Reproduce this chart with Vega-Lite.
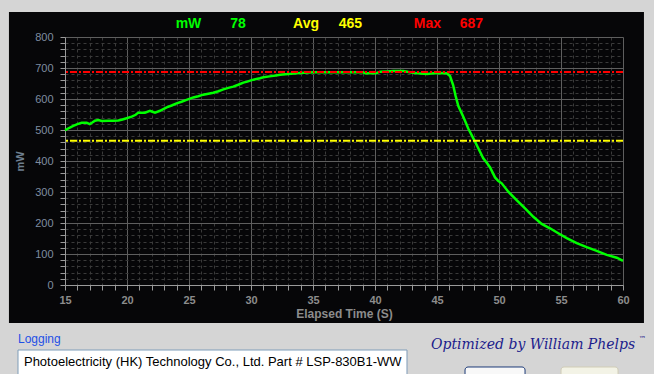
{
  "$schema": "https://vega.github.io/schema/vega-lite/v6.json",
  "autosize": "none",
  "width": 558,
  "height": 248,
  "padding": {"left": 65, "top": 37, "right": 31, "bottom": 89},
  "background": "#060608",
  "config": {"view": {"stroke": null}},
  "resolve": {"axis": {"x": "independent", "y": "independent"}},
  "datasets": {
    "power": [
      {"t": 15.0, "mw": 500}, {"t": 15.13, "mw": 502}, {"t": 15.4, "mw": 508}, {"t": 15.67, "mw": 513},
      {"t": 16.0, "mw": 519}, {"t": 16.35, "mw": 523}, {"t": 16.75, "mw": 523}, {"t": 17.0, "mw": 519},
      {"t": 17.2, "mw": 524}, {"t": 17.42, "mw": 530}, {"t": 17.69, "mw": 532}, {"t": 17.96, "mw": 529},
      {"t": 18.5, "mw": 530}, {"t": 18.9, "mw": 530}, {"t": 19.3, "mw": 531}, {"t": 19.57, "mw": 533},
      {"t": 19.97, "mw": 538}, {"t": 20.38, "mw": 543}, {"t": 20.7, "mw": 549}, {"t": 20.91, "mw": 556},
      {"t": 21.45, "mw": 556}, {"t": 21.85, "mw": 562}, {"t": 22.05, "mw": 559}, {"t": 22.26, "mw": 556},
      {"t": 22.66, "mw": 562}, {"t": 23.2, "mw": 573}, {"t": 23.6, "mw": 579}, {"t": 24.0, "mw": 586},
      {"t": 24.4, "mw": 591}, {"t": 24.8, "mw": 597}, {"t": 25.35, "mw": 605}, {"t": 25.75, "mw": 609},
      {"t": 26.15, "mw": 614}, {"t": 26.56, "mw": 617}, {"t": 26.96, "mw": 620}, {"t": 27.37, "mw": 625},
      {"t": 27.77, "mw": 631}, {"t": 28.17, "mw": 636}, {"t": 28.57, "mw": 640}, {"t": 28.97, "mw": 646},
      {"t": 29.38, "mw": 653}, {"t": 29.7, "mw": 656}, {"t": 30.05, "mw": 661}, {"t": 30.72, "mw": 667},
      {"t": 31.0, "mw": 670}, {"t": 31.5, "mw": 673}, {"t": 32.0, "mw": 676}, {"t": 32.34, "mw": 678},
      {"t": 33.0, "mw": 681}, {"t": 33.69, "mw": 683}, {"t": 34.3, "mw": 685}, {"t": 35.03, "mw": 686},
      {"t": 36.37, "mw": 686}, {"t": 37.7, "mw": 686}, {"t": 39.06, "mw": 686}, {"t": 39.2, "mw": 683},
      {"t": 40.1, "mw": 683}, {"t": 40.4, "mw": 688}, {"t": 41.0, "mw": 689}, {"t": 41.47, "mw": 690},
      {"t": 42.3, "mw": 690}, {"t": 42.8, "mw": 686}, {"t": 43.4, "mw": 683}, {"t": 44.2, "mw": 681},
      {"t": 44.7, "mw": 683}, {"t": 45.24, "mw": 684}, {"t": 45.78, "mw": 683}, {"t": 46.05, "mw": 674},
      {"t": 46.3, "mw": 645}, {"t": 46.5, "mw": 610}, {"t": 46.72, "mw": 577}, {"t": 47.12, "mw": 543},
      {"t": 47.52, "mw": 505}, {"t": 47.93, "mw": 473}, {"t": 48.33, "mw": 441}, {"t": 48.73, "mw": 409},
      {"t": 49.0, "mw": 395}, {"t": 49.27, "mw": 380}, {"t": 49.68, "mw": 347}, {"t": 49.95, "mw": 335},
      {"t": 50.22, "mw": 328}, {"t": 50.75, "mw": 301}, {"t": 51.42, "mw": 274}, {"t": 52.1, "mw": 247},
      {"t": 52.77, "mw": 220}, {"t": 53.44, "mw": 197}, {"t": 54.11, "mw": 183}, {"t": 54.78, "mw": 167},
      {"t": 55.46, "mw": 151}, {"t": 56.27, "mw": 135}, {"t": 57.07, "mw": 122}, {"t": 57.88, "mw": 110},
      {"t": 58.69, "mw": 97}, {"t": 59.5, "mw": 88}, {"t": 60.0, "mw": 78}
    ],
    "one": [{"k": 1}]
  },
  "layer": [
    {
      "data": {"name": "power"},
      "mark": {"type": "line", "color": "#00ff00", "strokeWidth": 2.5},
      "encoding": {
        "x": {
          "field": "t", "type": "quantitative",
          "scale": {"domain": [15, 60], "nice": false, "zero": false},
          "axis": {
            "orient": "bottom",
            "values": [15,16,17,18,19,20,21,22,23,24,25,26,27,28,29,30,31,32,33,34,35,36,37,38,39,40,41,42,43,44,45,46,47,48,49,50,51,52,53,54,55,56,57,58,59,60],
            "grid": true,
            "gridColor": {"condition": {"test": "datum.value % 5 === 0", "value": "#5e5e5e"}, "value": "#3a3a3a"},
            "gridDash": {"condition": {"test": "datum.value % 5 === 0", "value": []}, "value": [3, 3]},
            "labelExpr": "datum.value % 5 === 0 ? datum.label : ''",
            "labelOverlap": false, "labelFlush": false, "labelBound": false,
            "tickColor": "#9a9a9a", "tickSize": 5, "domainColor": "#9a9a9a",
            "labelColor": "#8c8c8c", "labelFont": "Liberation Sans", "labelFontSize": 11, "labelFontWeight": "bold", "labelPadding": 4,
            "title": "Elapsed Time (S)", "titleColor": "#8c8c8c", "titleFont": "Liberation Sans", "titleFontSize": 12, "titleFontWeight": "bold", "titlePadding": 3
          }
        },
        "y": {
          "field": "mw", "type": "quantitative",
          "scale": {"domain": [0, 800], "nice": false},
          "axis": {
            "orient": "left",
            "values": [0,20,40,60,80,100,120,140,160,180,200,220,240,260,280,300,320,340,360,380,400,420,440,460,480,500,520,540,560,580,600,620,640,660,680,700,720,740,760,780,800],
            "grid": true,
            "gridColor": {"condition": {"test": "datum.value % 100 === 0", "value": "#5e5e5e"}, "value": "#3a3a3a"},
            "gridDash": {"condition": {"test": "datum.value % 100 === 0", "value": []}, "value": [3, 3]},
            "labelExpr": "datum.value % 100 === 0 ? datum.label : ''",
            "labelOverlap": false, "labelFlush": false, "labelBound": false,
            "tickColor": "#9a9a9a", "tickSize": 5, "domainColor": "#9a9a9a",
            "labelColor": "#7f8da0", "labelFont": "Liberation Sans", "labelFontSize": 11, "labelPadding": 7,
            "title": "mW", "titleColor": "#6e7f90", "titleFont": "Liberation Sans", "titleFontSize": 11, "titleFontWeight": "bold", "titlePadding": 9
          }
        }
      }
    },
    {"data": {"name": "one"}, "mark": {"type": "rule", "color": "#ff0000", "strokeWidth": 2, "strokeDash": [7, 2, 2, 2]},
     "encoding": {"y": {"datum": 687, "type": "quantitative", "axis": null}}},
    {"data": {"name": "one"}, "mark": {"type": "rule", "color": "#ffff00", "strokeWidth": 2, "strokeDash": [7, 2, 2, 2]},
     "encoding": {"y": {"datum": 465, "type": "quantitative", "axis": null}}},
    {"data": {"name": "one"}, "mark": {"type": "rect", "color": "#d5d5d5", "clip": false},
     "encoding": {"x": {"datum": 0, "type": "quantitative", "axis": null}, "x2": {"datum": 10.48}, "y": {"datum": -400, "type": "quantitative", "axis": null}, "y2": {"datum": 1000}}},
    {"data": {"name": "one"}, "mark": {"type": "rect", "color": "#d5d5d5", "clip": false},
     "encoding": {"x": {"datum": 61.69, "type": "quantitative", "axis": null}, "x2": {"datum": 70}, "y": {"datum": -400, "type": "quantitative", "axis": null}, "y2": {"datum": 1000}}},
    {"data": {"name": "one"}, "mark": {"type": "rect", "color": "#d5d5d5", "clip": false},
     "encoding": {"x": {"datum": 0, "type": "quantitative", "axis": null}, "x2": {"datum": 70}, "y": {"datum": 880.6, "type": "quantitative", "axis": null}, "y2": {"datum": 1000}}},
    {"data": {"name": "one"}, "mark": {"type": "rect", "color": "#d5d5d5", "clip": false},
     "encoding": {"x": {"datum": 0, "type": "quantitative", "axis": null}, "x2": {"datum": 70}, "y": {"datum": -400, "type": "quantitative", "axis": null}, "y2": {"datum": -122.6}}},
    {"data": {"name": "one"}, "mark": {"type": "rect", "fill": "#ffffff", "stroke": "#7f9db9", "strokeWidth": 1, "clip": false},
     "encoding": {"x": {"datum": 11.21, "type": "quantitative", "axis": null}, "x2": {"datum": 42.58}, "y": {"datum": -209.7, "type": "quantitative", "axis": null}, "y2": {"datum": -320}}},
    {"data": {"name": "one"}, "mark": {"type": "rect", "fill": "#f8f8f8", "stroke": "#1c3a78", "strokeWidth": 1, "cornerRadius": 3, "clip": false},
     "encoding": {"x": {"datum": 47.26, "type": "quantitative", "axis": null}, "x2": {"datum": 52.1}, "y": {"datum": -264.5, "type": "quantitative", "axis": null}, "y2": {"datum": -371}}},
    {"data": {"name": "one"}, "mark": {"type": "rect", "fill": "#f3f3e6", "stroke": "#d0ccb6", "strokeWidth": 1, "cornerRadius": 3, "clip": false},
     "encoding": {"x": {"datum": 55.0, "type": "quantitative", "axis": null}, "x2": {"datum": 59.6}, "y": {"datum": -264.5, "type": "quantitative", "axis": null}, "y2": {"datum": -371}}},
    {"data": {"name": "one"}, "mark": {"type": "text", "text": "Logging", "color": "#1e50e6", "font": "Liberation Sans", "fontSize": 12, "align": "left", "baseline": "middle"},
     "encoding": {"x": {"datum": 11.21, "type": "quantitative", "axis": null}, "y": {"datum": -174.2, "type": "quantitative", "axis": null}}},
    {"data": {"name": "one"}, "mark": {"type": "text", "text": "Photoelectricity (HK) Technology Co., Ltd. Part # LSP-830B1-WW", "color": "#000000", "font": "Liberation Sans", "fontSize": 13, "align": "left", "baseline": "middle"},
     "encoding": {"x": {"datum": 11.69, "type": "quantitative", "axis": null}, "y": {"datum": -248.4, "type": "quantitative", "axis": null}}},
    {"data": {"name": "one"}, "mark": {"type": "text", "text": "Optimized by William Phelps", "color": "#1c1c8c", "font": "DejaVu Serif", "fontStyle": "italic", "fontSize": 14, "align": "left", "baseline": "middle"},
     "encoding": {"x": {"datum": 44.52, "type": "quantitative", "axis": null}, "y": {"datum": -193.5, "type": "quantitative", "axis": null}}},
    {"data": {"name": "one"}, "mark": {"type": "text", "text": "™", "color": "#1c1c8c", "font": "DejaVu Serif", "fontSize": 7, "align": "left", "baseline": "middle"},
     "encoding": {"x": {"datum": 61.3, "type": "quantitative", "axis": null}, "y": {"datum": -174, "type": "quantitative", "axis": null}}},
    {"data": {"name": "one"}, "mark": {"type": "text", "text": "mW", "color": "#00ff00", "font": "Liberation Sans", "fontWeight": "bold", "fontSize": 14, "baseline": "middle"},
     "encoding": {"x": {"datum": 24.96, "type": "quantitative", "axis": null}, "y": {"datum": 841.9, "type": "quantitative", "axis": null}}},
    {"data": {"name": "one"}, "mark": {"type": "text", "text": "78", "color": "#00ff00", "font": "Liberation Sans", "fontWeight": "bold", "fontSize": 14, "baseline": "middle"},
     "encoding": {"x": {"datum": 28.95, "type": "quantitative", "axis": null}, "y": {"datum": 841.9, "type": "quantitative", "axis": null}}},
    {"data": {"name": "one"}, "mark": {"type": "text", "text": "Avg", "color": "#ffff00", "font": "Liberation Sans", "fontWeight": "bold", "fontSize": 14, "baseline": "middle"},
     "encoding": {"x": {"datum": 34.44, "type": "quantitative", "axis": null}, "y": {"datum": 841.9, "type": "quantitative", "axis": null}}},
    {"data": {"name": "one"}, "mark": {"type": "text", "text": "465", "color": "#ffff00", "font": "Liberation Sans", "fontWeight": "bold", "fontSize": 14, "baseline": "middle"},
     "encoding": {"x": {"datum": 38.02, "type": "quantitative", "axis": null}, "y": {"datum": 841.9, "type": "quantitative", "axis": null}}},
    {"data": {"name": "one"}, "mark": {"type": "text", "text": "Max", "color": "#ff0000", "font": "Liberation Sans", "fontWeight": "bold", "fontSize": 14, "baseline": "middle"},
     "encoding": {"x": {"datum": 44.23, "type": "quantitative", "axis": null}, "y": {"datum": 841.9, "type": "quantitative", "axis": null}}},
    {"data": {"name": "one"}, "mark": {"type": "text", "text": "687", "color": "#ff0000", "font": "Liberation Sans", "fontWeight": "bold", "fontSize": 14, "baseline": "middle"},
     "encoding": {"x": {"datum": 47.78, "type": "quantitative", "axis": null}, "y": {"datum": 841.9, "type": "quantitative", "axis": null}}}
  ]
}
